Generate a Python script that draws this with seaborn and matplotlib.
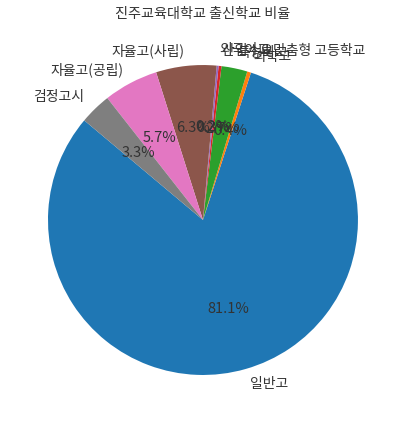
import matplotlib
matplotlib.use('Agg')
import matplotlib.pyplot as plt
import seaborn as sns

# school types and their shares (%)
labels = ['일반고', '과학고', '특성화고', '산업수요맞춤형 고등학교', '외국어고',
          '자율고(사립)', '자율고(공립)', '검정고시']
shares = [81.1, 0.4, 2.7, 0.3, 0.2, 6.3, 5.7, 3.3]

sns.set_theme(style='white')
plt.rcParams['font.family'] = ['Noto Sans CJK KR', 'DejaVu Sans']
plt.rcParams['text.color'] = '#333333'

colors = sns.color_palette('tab10', len(labels))

fig = plt.figure(figsize=(4.04, 4.23), dpi=100)
ax = fig.add_axes([0.0229, 0.0219, 0.959, 0.916])
wedges, texts, autotexts = ax.pie(shares, labels=labels, colors=colors,
                                  autopct='%1.1f%%', startangle=140,
                                  wedgeprops={'linewidth': 0},
                                  textprops={'fontsize': 10})
for t in autotexts:
    t.set_fontsize(10.5)
ax.set_title('진주교육대학교 출신학교 비율', fontsize=10.2)

fig.savefig('out.png', dpi=100)
